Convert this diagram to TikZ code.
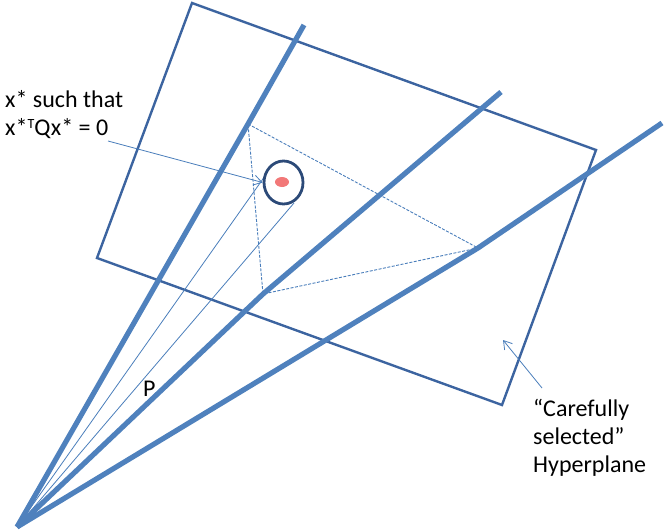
\documentclass[tikz,border=0pt]{standalone}
\usepackage{fontspec}
\setmainfont{Carlito}
\usetikzlibrary{arrows.meta,shapes.geometric}
\definecolor{raycol}{RGB}{79,129,189}
\definecolor{planecol}{RGB}{60,100,160}
\definecolor{circcol}{RGB}{44,74,120}
\definecolor{dotcol}{RGB}{242,120,120}
\definecolor{thincol}{RGB}{74,126,187}
\tikzset{
  ray/.style={draw=raycol,line width=5.2pt,line join=round},
  plane/.style={draw=planecol,line width=2.4pt,line join=miter},
  thinray/.style={draw=thincol,line width=0.8pt},
  dashtri/.style={draw=thincol,line width=0.9pt,dash pattern=on 3pt off 1.5pt},
  callout/.style={draw=thincol,line width=0.8pt,-{Straight Barb[length=8pt,width=10pt,line width=0.8pt]}},
  lbl/.style={font=\fontsize{24}{28}\selectfont,inner sep=0pt,align=left,anchor=base west,text=black}
}
\newcommand{\supT}{\raisebox{7pt}{\fontsize{14}{14}\selectfont T}}
\begin{document}
\begin{tikzpicture}[x=1pt,y=-1pt]
\useasboundingbox (0,0) rectangle (664,530);
% coordinates
\coordinate (O) at (17,527);
\coordinate (A) at (248,124);
\coordinate (B) at (263,294);
\coordinate (Cc) at (478,248);
\coordinate (E1) at (304,25);
\coordinate (E2) at (501,92);
\coordinate (E3) at (662,123);
% hyperplane
\draw[plane] (192,3) -- (596,150) -- (502,405) -- (97,258) -- cycle;
% dashed triangle
\draw[dashtri] (A) -- (Cc) -- (B) -- cycle;
% thin rays
\coordinate (T1) at (265,176);
\coordinate (T2) at (294,203);
\draw[thinray] (O) -- (T1);
\draw[thinray] (O) -- (T2);
% thick rays
\draw[ray] (O) -- (A) -- (E1);
\draw[ray] (O) -- (B) -- (E2);
\draw[ray] (O) -- (Cc) -- (E3);
% circle and dot
\node[ellipse,draw=circcol,line width=2.8pt,minimum width=39pt,minimum height=43pt,inner sep=0pt] (circ) at (283.5,182.5) {};
\node[ellipse,fill=dotcol,minimum width=14pt,minimum height=10pt,inner sep=0pt] (dot) at (282,182) {};
% labels
\node[lbl] (xlab) at (5,135) {x* such that\\x*\supT Qx* = 0};
\coordinate (xs) at (108,141);
\draw[callout] (xs) -- (circ.west);
\node[lbl] (P) at (143,396) {P};
\node[lbl] (hyp) at (533,472) {“Carefully\\selected”\\Hyperplane};
\coordinate (hs) at (542,388);
\coordinate (ht) at (503,340);
\draw[callout] (hs) -- (ht);
\end{tikzpicture}
\end{document}
